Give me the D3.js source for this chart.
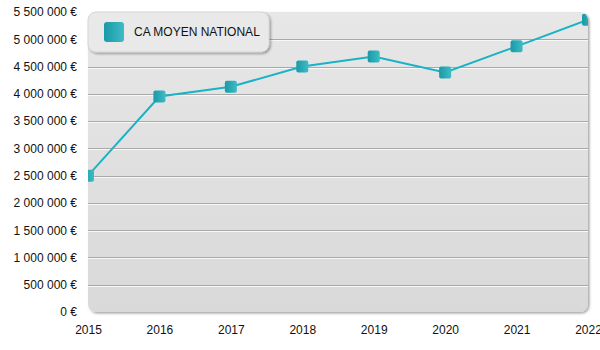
<!DOCTYPE html>
<html><head><meta charset="utf-8">
<script src="https://cdn.jsdelivr.net/npm/d3@7"></script>
<style>html,body{margin:0;padding:0;background:#fff;}</style>
</head><body>
<svg id="c" width="600" height="350"></svg>
<script>
const years = ["2015","2016","2017","2018","2019","2020","2021","2022"];
const caMoyen = [2500000, 3950000, 4130000, 4500000, 4685000, 4390000, 4870000, 5360000];
const yTicks = [0,500000,1000000,1500000,2000000,2500000,3000000,3500000,4000000,4500000,5000000,5500000];
const seriesName = "CA MOYEN NATIONAL";

const svg = d3.select("#c");
const m = {l:88, t:12, r:12, b:38};
const W = 600, H = 350;
const x = d3.scalePoint().domain(years).range([m.l, W - m.r]);
const y = d3.scaleLinear().domain([0, 5500000]).range([H - m.b, m.t]);
const fmt = v => d3.format(",")(v).replace(/,/g, " ") + " €";

const defs = svg.append("defs");
const bg = defs.append("linearGradient").attr("id","bg").attr("x1",0).attr("x2",0).attr("y1",0).attr("y2",1);
bg.append("stop").attr("offset","0%").attr("stop-color","#e7e7e7");
bg.append("stop").attr("offset","100%").attr("stop-color","#d9d9d9");
const mk = defs.append("linearGradient").attr("id","mk").attr("x1",0).attr("x2",1).attr("y1",0).attr("y2",0);
mk.append("stop").attr("offset","0%").attr("stop-color","#1a9aa6");
mk.append("stop").attr("offset","100%").attr("stop-color","#3dbbc6");
const sh = defs.append("filter").attr("id","sh").attr("x","-10%").attr("y","-10%").attr("width","130%").attr("height","130%");
sh.append("feDropShadow").attr("dx",1.5).attr("dy",1.5).attr("stdDeviation",1).attr("flood-color","#000").attr("flood-opacity",0.35);
defs.append("clipPath").attr("id","clip").append("rect")
  .attr("x", m.l).attr("y", m.t).attr("width", W - m.r - m.l).attr("height", H - m.b - m.t).attr("rx", 8);

svg.append("rect").attr("x", m.l).attr("y", m.t).attr("width", W - m.r - m.l).attr("height", H - m.b - m.t)
  .attr("rx", 8).attr("fill", "url(#bg)").attr("filter","url(#sh)");

const g = svg.append("g").attr("clip-path","url(#clip)");
yTicks.filter(v => v > 0 && v < 5500000).forEach(v => {
  g.append("line").attr("x1", m.l).attr("x2", W - m.r).attr("y1", Math.round(y(v)) + 0.5).attr("y2", Math.round(y(v)) + 0.5)
    .attr("stroke", "#a9a9a9").attr("stroke-width", 1);
  g.append("line").attr("x1", m.l).attr("x2", W - m.r).attr("y1", Math.round(y(v)) + 1.5).attr("y2", Math.round(y(v)) + 1.5)
    .attr("stroke", "#f8f8f8").attr("stroke-width", 1);
});

const ya = d3.axisLeft(y).tickValues(yTicks).tickFormat(fmt).tickSize(0).tickPadding(11);
svg.append("g").attr("transform", `translate(${m.l},0)`).call(ya)
  .call(s => s.select(".domain").remove())
  .selectAll("text").attr("font-family","'Liberation Sans', Arial, sans-serif").attr("font-size", 12).attr("fill","#111");

const xa = d3.axisBottom(x).tickSize(0).tickPadding(13);
svg.append("g").attr("transform", `translate(0,${H - m.b})`).call(xa)
  .call(s => s.select(".domain").remove())
  .selectAll("text").attr("font-family","'Liberation Sans', Arial, sans-serif").attr("font-size", 12).attr("fill","#111");

const line = d3.line().x((d,i) => x(years[i])).y(d => y(d));
g.append("path").datum(caMoyen).attr("d", line).attr("fill","none").attr("stroke","#19b2c6").attr("stroke-width", 2);

g.selectAll("rect.mk").data(caMoyen).join("rect").attr("class","mk")
  .attr("x", (d,i) => x(years[i]) - 6).attr("y", d => y(d) - 6)
  .attr("width", 12).attr("height", 12).attr("rx", 2)
  .attr("fill","url(#mk)");

const lg = svg.append("g");
lg.append("rect").attr("x", m.l).attr("y", m.t).attr("width", 181).attr("height", 40).attr("rx", 8)
  .attr("fill","#e9e9e9").attr("stroke","#d0d0d0").attr("stroke-width",0.8).attr("filter","url(#sh)");
lg.append("rect").attr("x", 104).attr("y", 22).attr("width", 20).attr("height", 20).attr("rx", 3).attr("fill","url(#mk)");
lg.append("text").attr("x", 134).attr("y", 32).attr("dy","0.35em").text(seriesName)
  .attr("font-family","'Liberation Sans', Arial, sans-serif").attr("font-size", 12).attr("fill","#111");
</script>
</body></html>
